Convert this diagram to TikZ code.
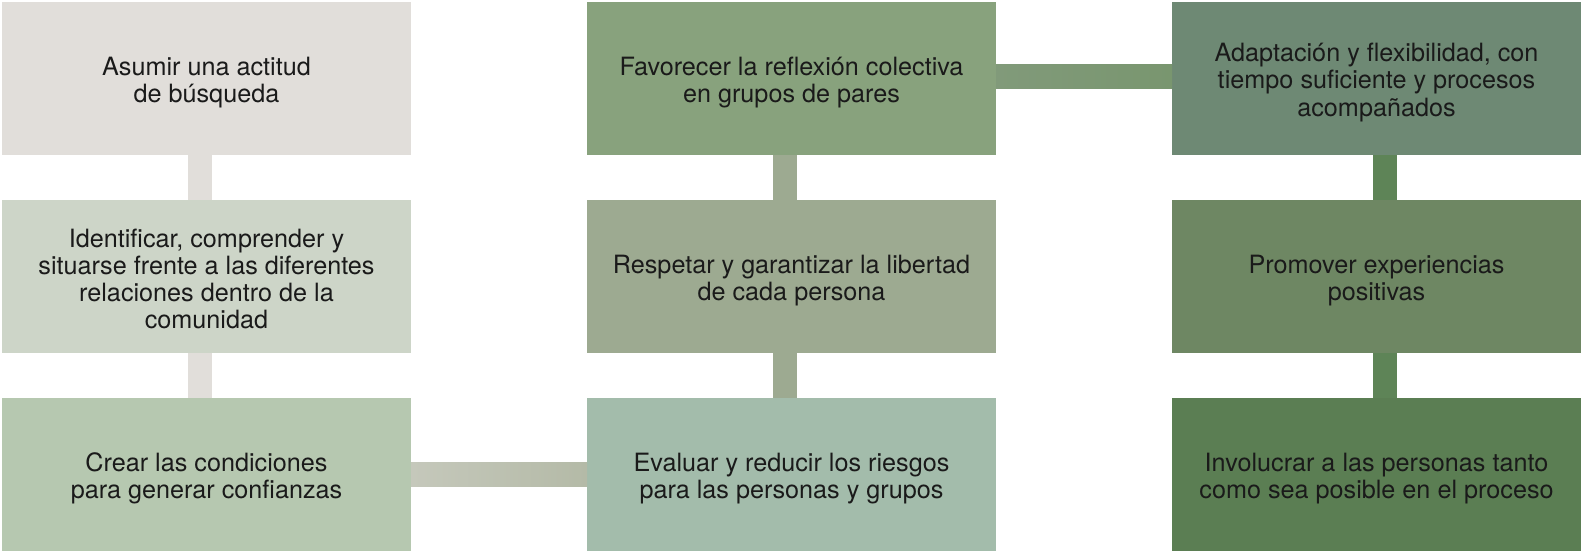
\documentclass[tikz,border=0pt]{standalone}
\usepackage{fontspec}
\setmainfont{TeX Gyre Heros}
\definecolor{cA}{HTML}{E1DEDA}
\definecolor{cB}{HTML}{CDD5C8}
\definecolor{cC}{HTML}{B6C8B0}
\definecolor{cD}{HTML}{88A27D}
\definecolor{cE}{HTML}{9DAA91}
\definecolor{cF}{HTML}{A3BCAB}
\definecolor{cG}{HTML}{6E8974}
\definecolor{cH}{HTML}{6E8763}
\definecolor{cI}{HTML}{5B7E53}
\definecolor{barC}{HTML}{5E8457}
\definecolor{hL1}{HTML}{C5C8BB}
\definecolor{hR1}{HTML}{B4BAA7}
\definecolor{hL2}{HTML}{819A7A}
\definecolor{hR2}{HTML}{79966F}
\definecolor{txt}{HTML}{1A1A1A}
\begin{document}
\begin{tikzpicture}[x=0.5pt,y=-0.5pt,
  box/.style={rectangle, inner sep=0pt, outer sep=0pt, minimum width=204.5pt, minimum height=76.5pt},
  lbl/.style={inner sep=0pt, align=center, text=txt, font=\fontsize{12.6}{13.6}\selectfont},
  vbar/.style={line width=12pt}]
\useasboundingbox (0,0) rectangle (1583,554);
\fill[white] (0,0) rectangle (1583,554);
\node[box, fill=cA] (a1) at (206.5,78.5) {};
\node[box, fill=cB] (a2) at (206.5,276.5) {};
\node[box, fill=cC] (a3) at (206.5,474.5) {};
\node[box, fill=cD] (b1) at (791.5,78.5) {};
\node[box, fill=cE] (b2) at (791.5,276.5) {};
\node[box, fill=cF] (b3) at (791.5,474.5) {};
\node[box, fill=cG] (c1) at (1376.5,78.5) {};
\node[box, fill=cH] (c2) at (1376.5,276.5) {};
\node[box, fill=cI] (c3) at (1376.5,474.5) {};
\node[lbl] (a1t) at ([yshift=-2pt]a1.center) {Asumir una actitud\\de búsqueda};
\node[lbl] (a2t) at ([yshift=-1.25pt]a2.center) {Identificar, comprender y\\situarse frente a las diferentes\\relaciones dentro de la\\comunidad};
\node[lbl] (a3t) at ([yshift=-2pt]a3.center) {Crear las condiciones\\para generar confianzas};
\node[lbl] (b1t) at ([yshift=-2pt]b1.center) {Favorecer la reflexión colectiva\\en grupos de pares};
\node[lbl] (b2t) at ([yshift=-2pt]b2.center) {Respetar y garantizar la libertad\\de cada persona};
\node[lbl] (b3t) at ([yshift=-2pt]b3.center) {Evaluar y reducir los riesgos\\para las personas y grupos};
\node[lbl] (c1t) at ([yshift=-2pt]c1.center) {Adaptación y flexibilidad, con\\tiempo suficiente y procesos\\acompañados};
\node[lbl] (c2t) at ([yshift=-2pt]c2.center) {Promover experiencias\\positivas};
\node[lbl] (c3t) at ([yshift=-2pt]c3.center) {Involucrar a las personas tanto\\como sea posible en el proceso};
% vertical connectors
\draw[vbar, cA] ([xshift=-3.5pt]a1.south) -- ([xshift=-3.5pt]a2.north);
\draw[vbar, cA] ([xshift=-3.5pt]a2.south) -- ([xshift=-3.5pt]a3.north);
\draw[vbar, cE] ([xshift=-3.25pt]b1.south) -- ([xshift=-3.25pt]b2.north);
\draw[vbar, cE] ([xshift=-3.25pt]b2.south) -- ([xshift=-3.25pt]b3.north);
\draw[vbar, barC] ([xshift=4.25pt]c1.south) -- ([xshift=4.25pt]c2.north);
\draw[vbar, barC] ([xshift=4.25pt]c2.south) -- ([xshift=4.25pt]c3.north);
% horizontal connectors
\shade[left color=hL1, right color=hR1] ([yshift=6pt]a3.east) rectangle ([yshift=-6pt]b3.west);
\shade[left color=hL2, right color=hR2] ([yshift=7.25pt]b1.east) rectangle ([yshift=-4.75pt]c1.west);
\end{tikzpicture}
\end{document}
